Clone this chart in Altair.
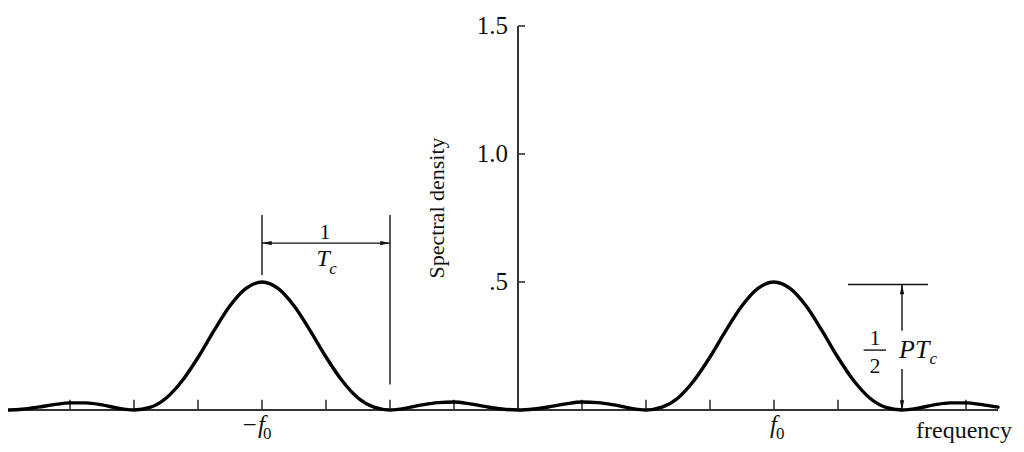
import altair as alt
import pandas as pd

# ---------------- data ----------------
freq = [-4.0, -3.875, -3.75, -3.625, -3.5, -3.375, -3.25, -3.125,
        -3.0, -2.875, -2.75, -2.625, -2.5, -2.375, -2.25, -2.125,
        -2.0, -1.875, -1.75, -1.625, -1.5, -1.375, -1.25, -1.125,
        -1.0, -0.875, -0.75, -0.625, -0.5, -0.375, -0.25, -0.125,
        0.0, 0.125, 0.25, 0.375, 0.5, 0.625, 0.75, 0.875,
        1.0, 1.125, 1.25, 1.375, 1.5, 1.625, 1.75, 1.875,
        2.0, 2.125, 2.25, 2.375, 2.5, 2.625, 2.75, 2.875,
        3.0, 3.125, 3.25, 3.375, 3.5, 3.625, 3.75]
density = [0.0, 0.003, 0.011, 0.021, 0.028, 0.028, 0.020, 0.007,
           0.0, 0.010, 0.046, 0.113, 0.205, 0.310, 0.407, 0.475,
           0.500, 0.475, 0.407, 0.311, 0.207, 0.115, 0.047, 0.011,
           0.0, 0.007, 0.020, 0.029, 0.031, 0.024, 0.013, 0.004,
           0.0, 0.004, 0.013, 0.024, 0.031, 0.029, 0.020, 0.007,
           0.0, 0.011, 0.047, 0.115, 0.207, 0.311, 0.407, 0.475,
           0.500, 0.475, 0.407, 0.310, 0.205, 0.113, 0.046, 0.010,
           0.0, 0.007, 0.020, 0.028, 0.028, 0.021, 0.011]

x_ticks = [-3.5, -3.0, -2.5, -2.0, -1.5, -1.0, -0.5, 0.5, 1.0, 1.5, 2.0, 2.5, 3.0, 3.5]
y_ticks = [0.5, 1.0, 1.5]
y_tick_labels = [".5", "1.0", "1.5"]

# ---------------- scales ----------------
W, H = 1008, 436
XS = alt.Scale(domain=[-3.984375, 3.890625], nice=False, zero=False)
YS = alt.Scale(domain=[-0.1328125, 1.5703125], nice=False, zero=False)
INK = "#111111"
AX = "#333333"
FONT = "Liberation Serif"


def segs(rows, width, color=INK):
    df = pd.DataFrame(rows, columns=["x", "y", "x2", "y2"])
    return alt.Chart(df).mark_rule(strokeWidth=width, color=color).encode(
        x=alt.X("x:Q", scale=XS, axis=None),
        y=alt.Y("y:Q", scale=YS, axis=None),
        x2="x2:Q", y2="y2:Q")


def texts(rows, **props):
    df = pd.DataFrame(rows, columns=["x", "y", "t"])
    return alt.Chart(df).mark_text(font=FONT, color=INK, **props).encode(
        x=alt.X("x:Q", scale=XS, axis=None),
        y=alt.Y("y:Q", scale=YS, axis=None),
        text="t:N")


def heads(rows, shape):
    df = pd.DataFrame(rows, columns=["x", "y"])
    return alt.Chart(df).mark_point(shape=shape, filled=True, size=380,
                                    color=INK, opacity=1).encode(
        x=alt.X("x:Q", scale=XS, axis=None),
        y=alt.Y("y:Q", scale=YS, axis=None))


curve_df = pd.DataFrame({"f": freq, "s": density})
curve = alt.Chart(curve_df).mark_line(
    color="#000000", strokeWidth=3.4, interpolate="monotone", clip=True,
    strokeCap="round").encode(
    x=alt.X("f:Q", scale=XS, axis=None),
    y=alt.Y("s:Q", scale=YS, axis=None))

axes = segs([[-3.984, 0, 3.75, 0], [0, 0, 0, 1.5]], 2.0, AX)
xt = segs([[t, 0, t, 0.04] for t in x_ticks], 1.6, AX)
yt = segs([[0, v, 0.055, v] for v in y_ticks], 1.6, AX)

ann = segs([[-2, 0.527, -2, 0.762], [-1, 0.10, -1, 0.762],
            [-2, 0.652, -1, 0.652],
            [2.578, 0.49, 3.203, 0.49], [3, 0.49, 3, 0.31], [3, 0.16, 3, 0.0],
            [2.70, 0.234, 2.875, 0.234]], 1.4)

ah = (heads([[-2, 0.652]], "M0,0L1,-0.22L1,0.22Z")
      + heads([[-1, 0.652]], "M0,0L-1,-0.22L-1,0.22Z")
      + heads([[3, 0.49]], "M0,0L-0.22,1L0.22,1Z")
      + heads([[3, 0.0]], "M0,0L-0.22,-1L0.22,-1Z"))

ylab = texts([[-0.078, v, s] for v, s in zip(y_ticks, y_tick_labels)],
             fontSize=25, align="right", baseline="middle")
ytitle = texts([[-0.633, 0.789, "Spectral density"]], fontSize=22,
               angle=270, align="center", baseline="middle")
xlab_it = texts([[-1.977, -0.09, "\u2212f"], [2.023, -0.09, "f"]],
                fontSize=25, fontStyle="italic", align="right",
                baseline="alphabetic")
xlab_sub = texts([[-1.992, -0.113, "0"], [2.016, -0.113, "0"]],
                 fontSize=17, align="left", baseline="alphabetic")
freq_lab = texts([[3.11, -0.108, "frequency"]], fontSize=24, align="left",
                 baseline="alphabetic")
frac_num = texts([[-1.508, 0.695, "1"], [2.789, 0.281, "1"], [2.789, 0.172, "2"]],
                 fontSize=22, align="center", baseline="middle")
frac_it = texts([[-1.523, 0.59, "T"]], fontSize=24, fontStyle="italic",
                align="center", baseline="middle")
pt_it = texts([[2.977, 0.234, "PT"]], fontSize=26, fontStyle="italic",
              align="left", baseline="middle")
sub_it = texts([[-1.475, 0.552, "c"], [3.215, 0.20, "c"]], fontSize=17,
               fontStyle="italic", align="left", baseline="middle")

chart = alt.layer(
    axes, xt, yt, ann, ah, curve, ylab, ytitle, xlab_it, xlab_sub,
    freq_lab, frac_num, frac_it, pt_it, sub_it
).properties(
    width=W, height=H, padding=0, autosize="none", background="#ffffff"
).configure_view(stroke=None, strokeWidth=0)

chart.save("out.html", embed_options={"renderer": "svg", "actions": False})
